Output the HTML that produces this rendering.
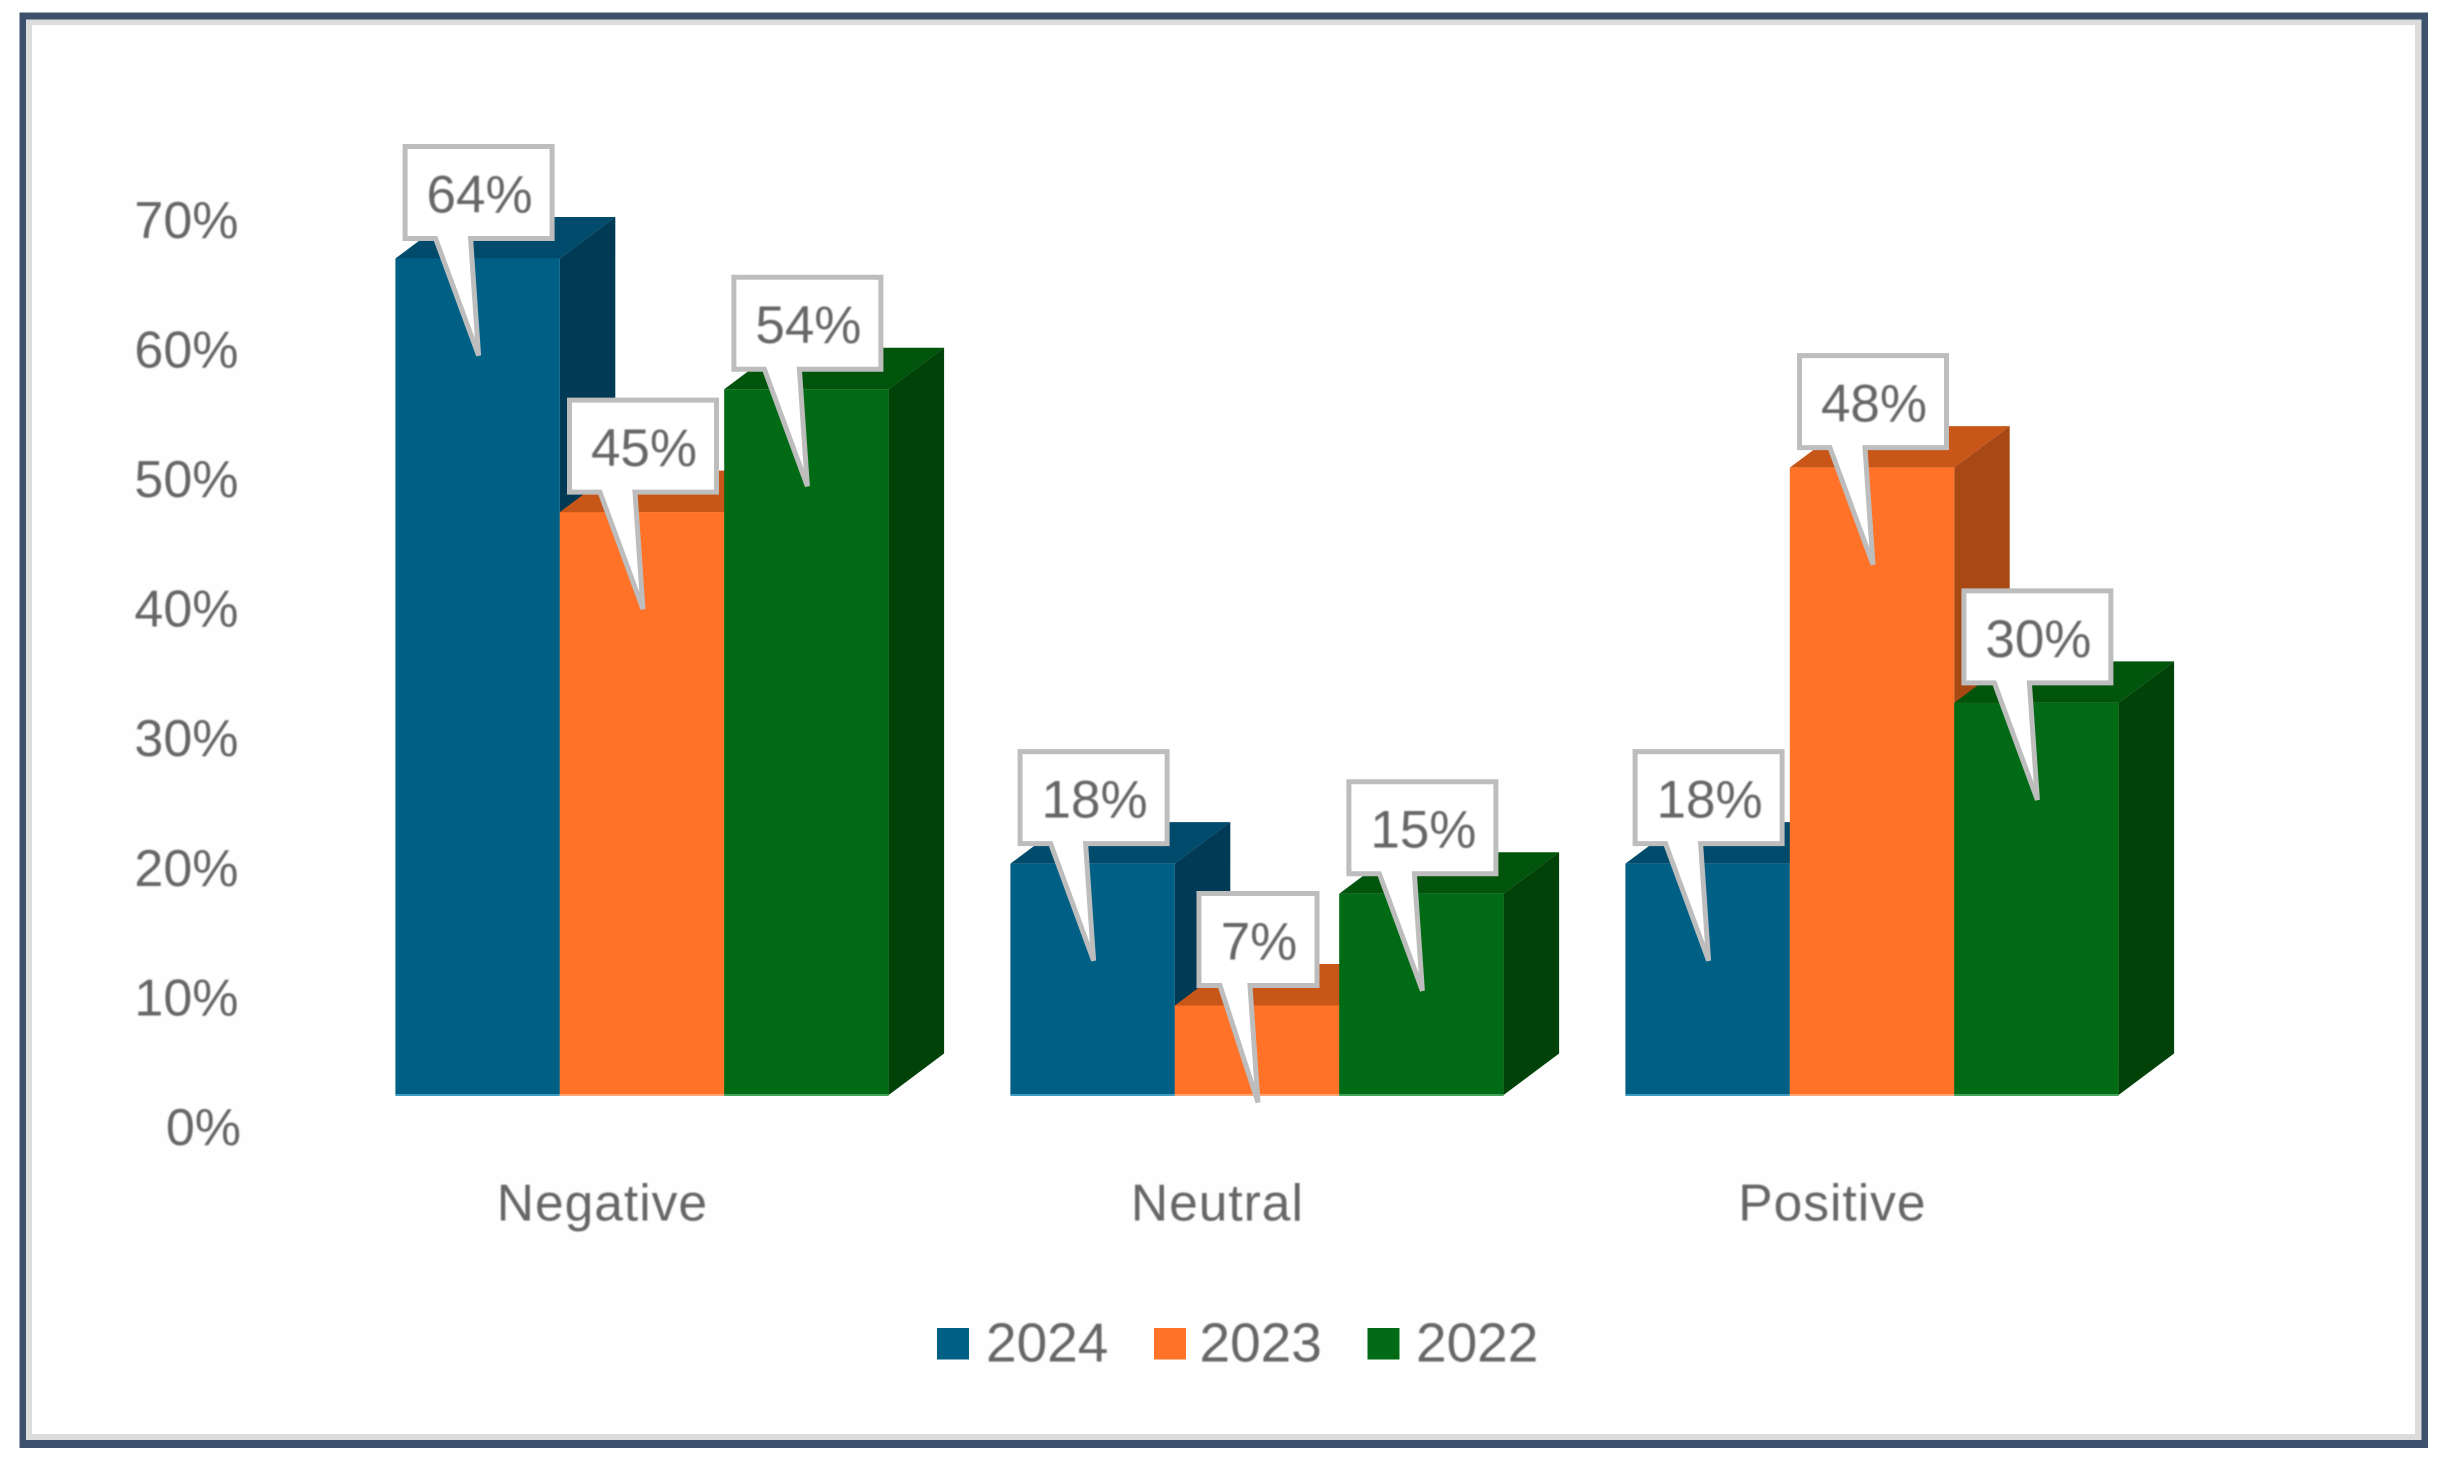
<!DOCTYPE html>
<html lang="en">
<head>
<meta charset="utf-8">
<title>Sentiment by year chart</title>
<style>
  html, body { margin: 0; padding: 0; background: #ffffff; }
  #stage { position: relative; width: 2444px; height: 1463px; overflow: hidden; background: #ffffff; }
  svg { position: absolute; left: 0; top: 0; display: block; }
  text { font-family: "Liberation Sans", Arial, sans-serif; fill: #666666; filter: url(#soft); }
</style>
</head>
<body>
<div id="stage">
<svg id="chart" xmlns="http://www.w3.org/2000/svg" width="2444" height="1463" viewBox="0 0 2444 1463">
  <defs>
    <filter id="soft" x="-10%" y="-10%" width="120%" height="120%"><feGaussianBlur stdDeviation="0.8"/></filter>
  </defs>
  <rect x="19.5" y="12.5" width="2408.5" height="1435.5" fill="#3c526c"/>
  <rect x="26" y="19.5" width="2395.5" height="1420.5" fill="#dcdcdc"/>
  <rect x="32" y="25" width="2383" height="1409" fill="#fefefe"/>
  <g id="axis"></g>
  <g id="cats"></g>
  <g id="bars"></g>
  <g id="callouts"></g>
  <g id="legend"></g>
</svg>
</div>
<script>
const categories = ['Negative', 'Neutral', 'Positive'];
const seriesNames = ['2024', '2023', '2022'];
const values2024 = [64, 17.7, 17.7];
const values2023 = [44.6, 6.85, 48];
const values2022 = [54, 15.4, 30];
const tickValues = [0, 10, 20, 30, 40, 50, 60, 70];
const tickLabels = ['0%', '10%', '20%', '30%', '40%', '50%', '60%', '70%'];

const seriesValues = [values2024, values2023, values2022];
const frontColors = ['#005f84', '#ff7228', '#016a15'];
const topColors = ['#004a6b', '#c85618', '#01540c'];
const sideColors = ['#003a55', '#a84814', '#004207'];
const baseColors = ['#3f9cc0', '#ffa678', '#45a35a'];

const NS = 'http://www.w3.org/2000/svg';
const BASE_Y = 1095;
const UNIT = 13.07;
const GROUP_X = 395.4;
const GROUP_STEP = 615;
const BAR_W = 164.4;
const DEPTH_X = 55.5;
const DEPTH_Y = 41.5;

function yVal(v) { return BASE_Y - v * UNIT; }
function xBar(g, s) { return GROUP_X + g * GROUP_STEP + s * BAR_W; }
function tickY(v) { return 1127 - v * 12.96; }
function catX(g) { return GROUP_X + g * GROUP_STEP + 207; }

function make(tag, attrs, parent, content) {
  const el = document.createElementNS(NS, tag);
  for (const k in attrs) el.setAttribute(k, attrs[k]);
  if (content !== undefined) el.textContent = content;
  parent.appendChild(el);
  return el;
}

const axisG = document.getElementById('axis');
tickValues.forEach(function (t, i) {
  const el = make('text', { x: t === 0 ? 241 : 238.5, y: tickY(t) + 18, 'text-anchor': 'end', 'font-size': 52 }, axisG, tickLabels[i]);
  
  
});

const catG = document.getElementById('cats');
categories.forEach(function (c, g) {
  const el = make('text', { x: catX(g), y: 1220.5, 'text-anchor': 'middle', 'font-size': 51.5, 'letter-spacing': 1 }, catG, c);
  
  
});

const barsG = document.getElementById('bars');
categories.forEach(function (c, g) {
  seriesValues.forEach(function (vals, s) {
    const x = xBar(g, s);
    const top = yVal(vals[g]);
    const group = make('g', {}, barsG);
    
    
    make('polygon', {
      points: [[x + BAR_W, top], [x + BAR_W + DEPTH_X, top - DEPTH_Y], [x + BAR_W + DEPTH_X, BASE_Y - DEPTH_Y], [x + BAR_W, BASE_Y]].join(' '),
      fill: sideColors[s]
    }, group);
    make('polygon', {
      points: [[x, top], [x + DEPTH_X, top - DEPTH_Y], [x + BAR_W + DEPTH_X, top - DEPTH_Y], [x + BAR_W, top]].join(' '),
      fill: topColors[s]
    }, group);
    make('rect', { x: x, y: top, width: BAR_W, height: BASE_Y - top, fill: frontColors[s] }, group);
    make('rect', { x: x, y: BASE_Y - 1, width: BAR_W, height: 2, fill: baseColors[s] }, group);
  });
});

const calloutG = document.getElementById('callouts');
categories.forEach(function (c, g) {
  seriesValues.forEach(function (vals, s) {
    const top = yVal(vals[g]);
    const center = xBar(g, s) + BAR_W / 2 + 1;
    const label = Math.round(vals[g]) + '%';
    const half = label.length < 3 ? 59 : 73.5;
    const boxTop = top - 112;
    const boxBot = top - 20;
    const tail = label.length < 3 ? 38 : 43;
    const group = make('g', {}, calloutG);
    
    
    make('path', {
      d: 'M' + (center - half) + ' ' + boxTop + 'H' + (center + half) + 'V' + boxBot +
         'H' + (center - 8) + 'L' + center + ' ' + (top + 97) + 'L' + (center - tail) + ' ' + boxBot +
         'H' + (center - half) + 'Z',
      fill: '#ffffff', stroke: '#bdbdbd', 'stroke-width': 5, 'stroke-linejoin': 'miter', 'stroke-miterlimit': 3
    }, group);
    make('text', { x: center + 1, y: top - 46, 'text-anchor': 'middle', 'font-size': 53 }, group, label);
  });
});

const legendG = document.getElementById('legend');
const legendSwatchX = [937, 1154, 1367.5];
const legendTextX = [986, 1199.5, 1416];
seriesNames.forEach(function (n, s) {
  const group = make('g', {}, legendG);
  
  
  make('rect', { x: legendSwatchX[s], y: 1328, width: 32, height: 31.5, fill: frontColors[s] }, group);
  make('text', { x: legendTextX[s], y: 1361.5, 'font-size': 55 }, group, n);
});
</script>
</body>
</html>
